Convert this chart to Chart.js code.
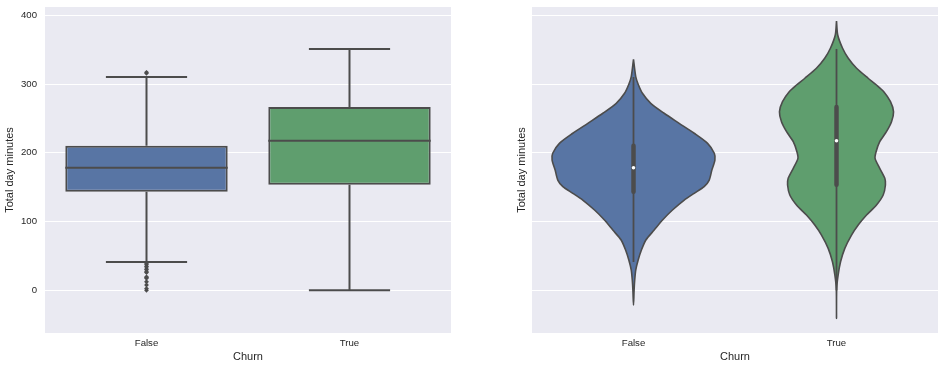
<!DOCTYPE html>
<html>
<head>
<meta charset="utf-8">
<script src="https://cdn.jsdelivr.net/npm/chart.js@4.4.0/dist/chart.umd.min.js"></script>
<style>
    body { margin: 0; background: #ffffff; }
    .panel { position: absolute; top: 0; height: 370px; }
    #left { left: 0; width: 470px; }
    #right { left: 470px; width: 475px; }
</style>
</head>
<body>
<div id="left" class="panel"><canvas id="boxChart"></canvas></div>
<div id="right" class="panel"><canvas id="violinChart"></canvas></div>
<script>
const categories = ["False", "True"];
const yTicks = [0, 100, 200, 300, 400];

// box plot stats
const boxQ1 = [143.4, 153.6];
const boxMedian = [178.3, 217.6];
const boxQ3 = [210.3, 266.6];
const whiskerLow = [41.2, 0];
const whiskerHigh = [310.2, 351.0];
const fliersFalse = [0, 2.6, 7.8, 12.5, 17.6, 18.9, 19.5, 25.9, 27.0, 29.9, 30.9, 34.0, 35.1, 37.7, 39.5, 315.6, 317.0];
const fliersTrue = [];

// violin outlines: value, half width (in category units)
const violinFalseY = [336.0, 310.7, 299.6, 286.5, 272.0, 257.5, 242.9, 228.4, 213.8, 199.3, 189.5, 175.0, 160.4, 150.7, 141.1, 131.3, 116.8, 102.3, 87.7, 73.2, 58.6, 44.1, 29.5, 15.0, 0.4, -21.4];
const violinFalseHalf = [0, 0.011, 0.023, 0.044, 0.085, 0.151, 0.225, 0.299, 0.365, 0.398, 0.401, 0.386, 0.373, 0.348, 0.299, 0.250, 0.192, 0.143, 0.102, 0.061, 0.039, 0.023, 0.011, 0.006, 0.003, 0];
const violinTrueY = [391.7, 371.3, 352.0, 337.5, 322.9, 308.4, 298.6, 288.9, 274.3, 259.8, 245.2, 230.7, 216.1, 201.6, 192.0, 177.5, 162.9, 153.2, 138.6, 124.1, 109.5, 95.0, 80.4, 61.1, 41.6, 22.3, 2.9, -40.7];
const violinTrueHalf = [0, 0.006, 0.030, 0.058, 0.099, 0.156, 0.197, 0.233, 0.266, 0.281, 0.271, 0.246, 0.213, 0.195, 0.190, 0.213, 0.238, 0.241, 0.230, 0.197, 0.148, 0.107, 0.074, 0.041, 0.020, 0.008, 0.001, 0];

const fillColors = ["#5875a4", "#5f9e6e"];
const lineColor = "#4c4c4c";
const textColor = "#262626";

Chart.defaults.font.family = "'Liberation Sans', Arial, sans-serif";
Chart.defaults.color = textColor;

// grey plot background like seaborn darkgrid
const plotBg = {
    id: "plotBg",
    beforeDraw(chart) {
        const { ctx, chartArea } = chart;
        ctx.save();
        ctx.fillStyle = "#eaeaf2";
        ctx.fillRect(chartArea.left, chartArea.top, chartArea.width, chartArea.height);
        ctx.restore();
    }
};

function segment(points, width, order, cap) {
    return {
        type: "scatter",
        data: points.map(p => ({ x: p[0], y: p[1] })),
        showLine: true,
        borderColor: lineColor,
        borderWidth: width,
        borderCapStyle: cap || "butt",
        pointRadius: 0,
        order: order
    };
}

function makeScales(yAxisWidth, titlePad, showYLabels) {
    return {
        x: {
            type: "linear",
            min: -0.5,
            max: 1.5,
            offset: false,
            afterBuildTicks: s => { s.ticks = categories.map((c, i) => ({ value: i })); },
            afterFit: s => { s.height = 37; s.paddingLeft = 0; s.paddingRight = 0; },
            ticks: {
                callback: v => categories[v],
                padding: 5,
                font: { size: 9.6 },
                maxRotation: 0
            },
            grid: { display: false, drawTicks: false, offset: false },
            border: { display: false },
            title: { display: true, text: "Churn", font: { size: 11 }, padding: { top: 0, bottom: 6 } }
        },
        y: {
            type: "linear",
            min: -62,
            max: 412,
            afterBuildTicks: s => { s.ticks = yTicks.map(v => ({ value: v })); },
            afterFit: s => { s.width = yAxisWidth; s.paddingTop = 0; s.paddingBottom = 0; },
            ticks: { display: showYLabels, padding: 8, font: { size: 9.6 } },
            grid: { color: "#ffffff", lineWidth: 1, drawTicks: false },
            border: { display: false },
            title: { display: true, text: "Total day minutes", font: { size: 11 }, padding: { top: titlePad, bottom: 0 } }
        }
    };
}

function commonOptions(yAxisWidth, titlePad, showYLabels, rightPad) {
    return {
        responsive: true,
        maintainAspectRatio: false,
        animation: false,
        events: [],
        layout: { padding: { top: 7, right: rightPad, bottom: 0, left: 0 } },
        plugins: { legend: { display: false }, tooltip: { enabled: false } },
        scales: makeScales(yAxisWidth, titlePad, showYLabels)
    };
}

// ---- left: box plot
let boxSets = [];
boxSets.push({
    type: "bar",
    data: categories.map((c, i) => ({ x: i, y: [boxQ1[i], boxQ3[i]] })),
    backgroundColor: fillColors,
    borderColor: lineColor,
    borderWidth: 2,
    borderSkipped: false,
    barPercentage: 1,
    categoryPercentage: 0.8,
    order: 3
});
categories.forEach((c, i) => {
    boxSets.push(segment([[i - 0.4, boxMedian[i]], [i + 0.4, boxMedian[i]]], 2, 2));
    boxSets.push(segment([[i, boxQ3[i]], [i, whiskerHigh[i]]], 2, 2));
    boxSets.push(segment([[i, whiskerLow[i]], [i, boxQ1[i]]], 2, 2));
    boxSets.push(segment([[i - 0.2, whiskerHigh[i]], [i + 0.2, whiskerHigh[i]]], 2, 2));
    boxSets.push(segment([[i - 0.2, whiskerLow[i]], [i + 0.2, whiskerLow[i]]], 2, 2));
});
[fliersFalse, fliersTrue].forEach((list, i) => {
    boxSets.push({
        type: "scatter",
        data: list.map(v => ({ x: i, y: v })),
        pointStyle: "rectRot",
        pointRadius: 2.4,
        pointBackgroundColor: lineColor,
        pointBorderWidth: 0,
        order: 1
    });
});

new Chart(document.getElementById("boxChart"), {
    type: "scatter",
    data: { datasets: boxSets },
    options: commonOptions(45, 3.5, true, 19),
    plugins: [plotBg]
});

// ---- right: violin plot
function violinOutline(i, ys, halfs) {
    let pts = [];
    for (let k = 0; k < ys.length; k++) pts.push({ x: i + halfs[k], y: ys[k] });
    for (let k = ys.length - 2; k >= 0; k--) pts.push({ x: i - halfs[k], y: ys[k] });
    return {
        type: "scatter",
        data: pts,
        showLine: true,
        fill: "shape",
        backgroundColor: fillColors[i],
        borderColor: lineColor,
        borderWidth: 1.6,
        tension: 0.25,
        pointRadius: 0,
        order: 3
    };
}

let violinSets = [
    violinOutline(0, violinFalseY, violinFalseHalf),
    violinOutline(1, violinTrueY, violinTrueHalf)
];
categories.forEach((c, i) => {
    violinSets.push(segment([[i, whiskerLow[i]], [i, whiskerHigh[i]]], 1.8, 2));
    violinSets.push(segment([[i, boxQ1[i]], [i, boxQ3[i]]], 4.5, 2, "round"));
});
violinSets.push({
    type: "scatter",
    data: categories.map((c, i) => ({ x: i, y: boxMedian[i] })),
    pointRadius: 1.8,
    pointBackgroundColor: "#ffffff",
    pointBorderWidth: 0,
    order: 1
});

new Chart(document.getElementById("violinChart"), {
    type: "scatter",
    data: { datasets: violinSets },
    options: commonOptions(62, 45, false, 7),
    plugins: [plotBg]
});
</script>
</body>
</html>
